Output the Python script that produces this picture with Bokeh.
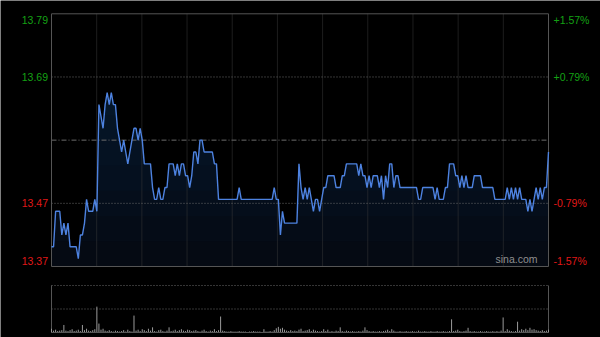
import numpy as np
from bokeh.plotting import figure
from bokeh.models import Range1d, ColumnDataSource
from bokeh.core.properties import value
from bokeh.embed import file_html
from bokeh.resources import INLINE

# ---------------- data ----------------
PREV_CLOSE = 13.58
RANGE_PCT = 1.57

PRICE = [
    13.40, 13.40, 13.46, 13.46, 13.46, 13.42, 13.44, 13.42, 13.44, 13.40,
    13.40, 13.40, 13.40, 13.38, 13.42, 13.42, 13.44, 13.48, 13.46, 13.46,
    13.46, 13.48, 13.46, 13.64, 13.62, 13.60, 13.64, 13.66, 13.64, 13.66,
    13.64, 13.64, 13.60, 13.58, 13.56, 13.58, 13.56, 13.54, 13.56, 13.58,
    13.60, 13.60, 13.58, 13.60, 13.58, 13.54, 13.54, 13.54, 13.54, 13.50,
    13.48, 13.48, 13.50, 13.48, 13.48, 13.50, 13.50, 13.54, 13.54, 13.54,
    13.52, 13.54, 13.52, 13.54, 13.54, 13.52, 13.52, 13.50, 13.52, 13.56,
    13.56, 13.54, 13.58, 13.58, 13.56, 13.56, 13.56, 13.56, 13.56, 13.54,
    13.54, 13.48, 13.48, 13.48, 13.48, 13.48, 13.48, 13.48, 13.48, 13.48,
    13.48, 13.50, 13.48, 13.48, 13.48, 13.48, 13.48, 13.48, 13.48, 13.48,
    13.48, 13.48, 13.48, 13.48, 13.48, 13.48, 13.48, 13.48, 13.50, 13.48,
    13.48, 13.42, 13.46, 13.44, 13.44, 13.44, 13.44, 13.44, 13.44, 13.44,
    13.54, 13.50, 13.48, 13.50, 13.48, 13.50, 13.48, 13.46, 13.48, 13.48,
    13.46, 13.48, 13.50, 13.50, 13.52, 13.52, 13.52, 13.52, 13.50, 13.50,
    13.50, 13.52, 13.52, 13.54, 13.54, 13.54, 13.54, 13.54, 13.54, 13.52,
    13.54, 13.52, 13.52, 13.50, 13.52, 13.50, 13.52, 13.52, 13.52, 13.50,
    13.52, 13.48, 13.52, 13.50, 13.54, 13.54, 13.50, 13.52, 13.52, 13.50,
    13.50, 13.50, 13.50, 13.50, 13.50, 13.50, 13.50, 13.50, 13.48, 13.48,
    13.50, 13.50, 13.50, 13.50, 13.50, 13.50, 13.48, 13.50, 13.48, 13.48,
    13.48, 13.50, 13.50, 13.54, 13.54, 13.54, 13.52, 13.52, 13.50, 13.52,
    13.50, 13.52, 13.50, 13.50, 13.50, 13.52, 13.52, 13.52, 13.52, 13.50,
    13.50, 13.50, 13.50, 13.50, 13.50, 13.48, 13.48, 13.48, 13.48, 13.48,
    13.48, 13.50, 13.48, 13.50, 13.48, 13.50, 13.48, 13.50, 13.48, 13.48,
    13.48, 13.46, 13.48, 13.46, 13.48, 13.50, 13.48, 13.50, 13.48, 13.50,
    13.50, 13.56,
]

VOLUME = [
    8, 4, 6, 3, 4, 5, 16, 4, 3, 5,
    7, 3, 4, 6, 3, 16, 5, 8, 4, 3,
    5, 7, 55, 19, 6, 8, 4, 3, 5, 3,
    2, 4, 3, 2, 3, 5, 2, 6, 3, 2,
    36, 4, 6, 3, 7, 5, 3, 8, 4, 11,
    3, 2, 5, 6, 3, 2, 4, 11, 3, 4,
    6, 3, 5, 7, 4, 3, 6, 5, 3, 4,
    5, 3, 2, 4, 6, 3, 2, 4, 3, 7,
    3, 5, 34, 4, 3, 2, 2, 3, 2, 2,
    2, 3, 2, 2, 2, 1, 2, 2, 3, 2,
    2, 2, 1, 7, 2, 2, 3, 2, 5, 9,
    12, 8, 10, 6, 4, 3, 5, 3, 4, 3,
    6, 8, 3, 4, 5, 7, 3, 6, 4, 3,
    2, 3, 7, 3, 6, 2, 3, 2, 4, 3,
    11, 3, 2, 4, 3, 2, 3, 2, 2, 3,
    2, 4, 11, 5, 3, 2, 3, 2, 2, 3,
    2, 3, 4, 6, 3, 7, 4, 2, 2, 3,
    2, 2, 3, 2, 2, 3, 2, 2, 4, 2,
    2, 3, 2, 2, 3, 2, 2, 3, 2, 2,
    3, 2, 2, 3, 28, 3, 4, 6, 3, 2,
    3, 4, 10, 3, 2, 3, 2, 2, 3, 2,
    2, 3, 2, 2, 3, 2, 3, 2, 4, 32,
    3, 7, 4, 3, 2, 3, 23, 4, 7, 5,
    8, 5, 10, 6, 7, 5, 4, 3, 5, 3,
    4, 6,
]
VOL_MAX = 100

LEFT_LABELS = ["13.79", "13.69", "13.47", "13.37"]
RIGHT_LABELS = ["+1.57%", "+0.79%", "-0.79%", "-1.57%"]
LABEL_PCT = [1.57, 0.785, -0.785, -1.57]
LABEL_COLORS = ["#14a014", "#14a014", "#e01818", "#e01818"]

# ---------------- layout constants ----------------
N = len(PRICE)
idx = np.arange(N)
price = np.array(PRICE)

W, H = 600, 337
FX0, FX1 = 51, 548
FY0, FY1 = 13.3, 266          # price frame top / bottom (px)
VY0, VY1 = 285, 332           # volume frame top / bottom (px)
PXI = (FX1 - FX0) / (N - 1)
TOP = PREV_CLOSE * (1 + RANGE_PCT / 100)
BOT = PREV_CLOSE * (1 - RANGE_PCT / 100)
KY = (TOP - BOT) / (FY1 - FY0)
KV = VOL_MAX / (VY1 - VY0)
XR = N - 1

p = figure(width=W, height=H,
           x_range=Range1d(-FX0 / PXI, (W - FX0) / PXI),
           y_range=Range1d(BOT - (H - FY1) * KY, TOP + FY0 * KY),
           output_backend="svg", toolbar_location=None,
           x_axis_location=None, y_axis_location=None, min_border=0,
           background_fill_color="#000000", border_fill_color="#000000",
           outline_line_color=None)
p.xgrid.grid_line_color = None
p.ygrid.grid_line_color = None
p.extra_y_ranges = {"vol": Range1d(-(H - VY1) * KV, VOL_MAX + VY0 * KV)}

# gradient-like fill under the line
p.varea(x=idx, y1=BOT, y2=price, fill_color="#05080f", fill_alpha=1.0)
for j in range(10):
    lvl = BOT + (TOP - BOT) * j / 10
    p.varea(x=idx, y1=lvl, y2=np.maximum(price, lvl),
            fill_color="#2a4a80", fill_alpha=0.035)

# grid
vx = [k * XR / 11 for k in range(1, 11)]
p.segment(x0=vx, y0=BOT, x1=vx, y1=TOP, line_color="#3a3a3a",
          line_width=1, line_dash="1 1")
q_up = PREV_CLOSE * (1 + LABEL_PCT[1] / 100)
q_dn = PREV_CLOSE * (1 + LABEL_PCT[2] / 100)
p.segment(x0=[0, 0], y0=[q_up, q_dn], x1=[XR, XR], y1=[q_up, q_dn],
          line_color="#6a6a6a", line_width=1, line_dash="1 2")
p.segment(x0=[0], y0=[PREV_CLOSE], x1=[XR], y1=[PREV_CLOSE],
          line_color="#6a6a6a", line_width=1, line_dash="5 2 1 2")

# frame
p.quad(left=0, right=XR, bottom=BOT, top=TOP, fill_alpha=0,
       line_color="#555555", line_width=1)

# price line
p.line(idx, price, line_color="#4d82e0", line_width=1.4)

# axis labels
lab_y = [min(max(PREV_CLOSE * (1 + q / 100), BOT + 6 * KY), TOP - 6 * KY)
         for q in LABEL_PCT]
src_l = ColumnDataSource(dict(x=[(47.5 - FX0) / PXI] * 4, y=lab_y,
                              t=LEFT_LABELS, c=LABEL_COLORS))
src_r = ColumnDataSource(dict(x=[(553 - FX0) / PXI] * 4, y=lab_y,
                              t=RIGHT_LABELS, c=LABEL_COLORS))
p.text(x="x", y="y", text="t", text_color="c", source=src_l,
       text_align="right", text_baseline="middle",
       text_font=value("Liberation Sans"), text_font_size=value("10.5px"))
p.text(x="x", y="y", text="t", text_color="c", source=src_r,
       text_align="left", text_baseline="middle",
       text_font=value("Liberation Sans"), text_font_size=value("10.5px"))

# watermark
p.text(x=[(537 - FX0) / PXI], y=[BOT + 2 * KY], text=["sina.com"],
       text_align="right", text_baseline="bottom", text_color="#8f8f8f",
       text_font=value("Liberation Sans"), text_font_size=value("10.5px"))

# ---------------- volume panel ----------------
p.segment(x0=[0, 0], y0=[VOL_MAX, VOL_MAX / 2], x1=[XR, XR],
          y1=[VOL_MAX, VOL_MAX / 2], line_color="#6a6a6a", line_width=1,
          line_dash="1 2", y_range_name="vol")
p.segment(x0=[0, XR], y0=[0, 0], x1=[0, XR], y1=[VOL_MAX, VOL_MAX],
          line_color="#555555", line_width=1, y_range_name="vol")
p.segment(x0=idx, y0=0, x1=idx, y1=VOLUME, line_color="#9a9a9a",
          line_width=1, y_range_name="vol")
p.segment(x0=[0], y0=[0], x1=[XR], y1=[0], line_color="#555555",
          line_width=1, y_range_name="vol")

open("out.html", "w").write(file_html(p, INLINE))
